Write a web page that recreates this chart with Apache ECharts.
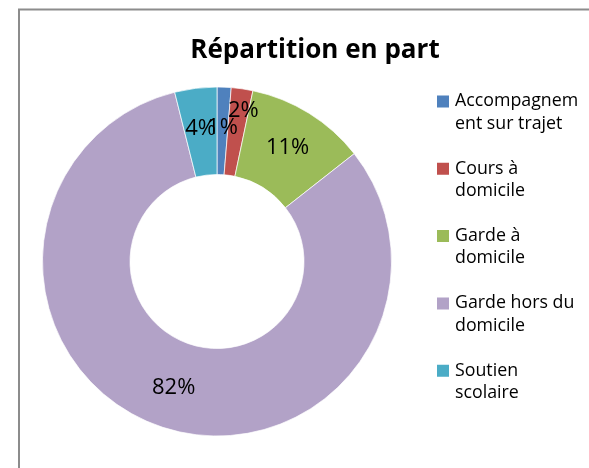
<!DOCTYPE html>
<html>
<head>
<meta charset="utf-8">
<script src="https://cdn.jsdelivr.net/npm/echarts@6/dist/echarts.min.js"></script>
<style>
  html, body { margin: 0; padding: 0; background: #fff; }
  #chart { width: 589px; height: 468px; }
</style>
</head>
<body>
<div id="chart"></div>
<script>
// data (shares in %)
const categories = ['Accompagnement sur trajet', 'Cours à domicile', 'Garde à domicile', 'Garde hors du domicile', 'Soutien scolaire'];
const shares = [1.3, 2.0, 11.1, 81.7, 3.9];
// legend text as wrapped in the original
const legendLines = ['Accompagnem\nent sur trajet', 'Cours à\ndomicile', 'Garde à\ndomicile', 'Garde hors du\ndomicile', 'Soutien\nscolaire'];

const palette = ['#4F81BD', '#C0504D', '#9BBB59', '#B2A2C7', '#4BACC6'];
const font = '"Open Sans", sans-serif';

// square sitting on the first text line (tiny dots stretch the box to 2 lines)
const legendIcon = 'path://M0,0h0.01v0.01h-0.01z M0,5.5H12V17.5H0Z M12.99,44.99h0.01v0.01h-0.01z';

const chart = echarts.init(document.getElementById('chart'));

const pieData = categories.map((name, i) => {
    const item = { name: name, value: shares[i] };
    // Excel pushed the "2%" label outward a bit
    if (i === 1) item.label = { offset: [7, -18] };
    return item;
});

chart.setOption({
    animation: false,
    color: palette,
    graphic: [{
        type: 'rect',
        shape: { x: 19, y: 9.5, width: 620, height: 520 },
        style: { fill: 'none', stroke: '#8c8c8c', lineWidth: 2 },
        silent: true
    }],
    title: {
        text: 'Répartition en part',
        left: 310, top: 33,
        textAlign: 'center',
        textStyle: { fontFamily: font, fontWeight: 'bold', fontSize: 26, color: '#000' }
    },
    legend: {
        orient: 'vertical',
        left: 437, top: 90,
        padding: 0,
        icon: legendIcon,
        itemWidth: 13, itemHeight: 45,
        itemGap: 22.3,
        selectedMode: false,
        itemStyle: { borderWidth: 0 },
        formatter: name => legendLines[categories.indexOf(name)],
        textStyle: {
            fontFamily: font, fontSize: 17.8, color: '#000',
            lineHeight: 22.5
        },
        data: categories
    },
    series: [{
        type: 'pie',
        center: [217, 261.5],
        radius: [87, 174.5],
        startAngle: 90,
        clockwise: true,
        avoidLabelOverlap: false,
        minShowLabelAngle: 0,
        labelLayout: { hideOverlap: false },
        itemStyle: { borderColor: '#fff', borderWidth: 0.7 },
        emphasis: { disabled: true },
        label: {
            show: true,
            position: 'inside',
            formatter: p => Math.round(p.percent) + '%',
            fontFamily: font, fontSize: 22, color: '#000'
        },
        labelLine: { show: false },
        data: pieData
    }]
});
</script>
</body>
</html>
